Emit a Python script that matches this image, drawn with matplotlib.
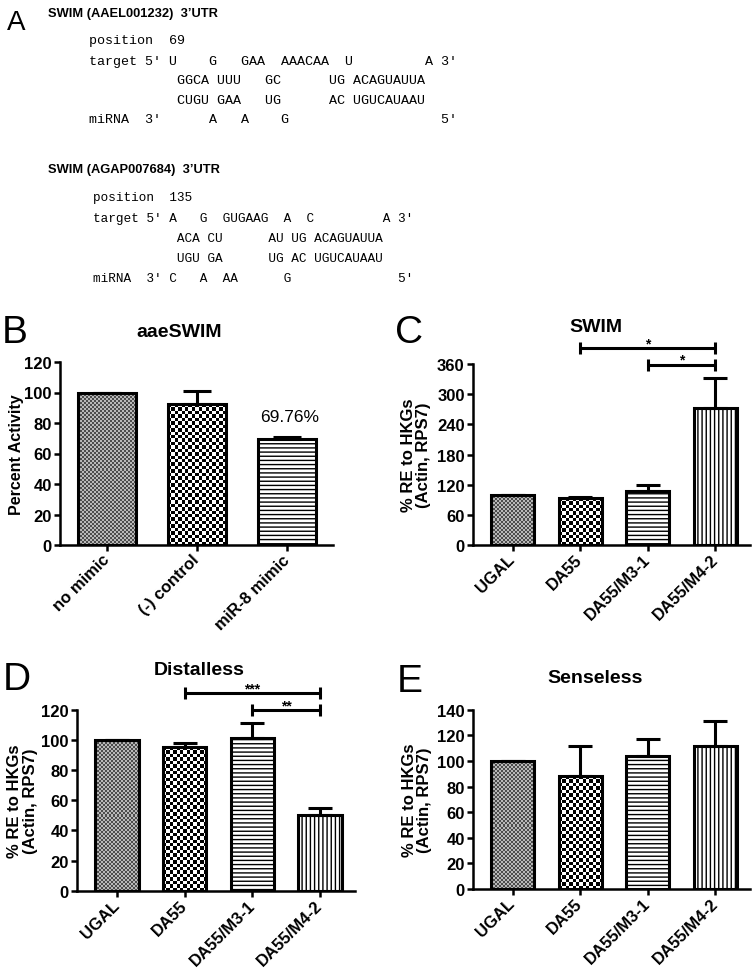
import numpy as np
import matplotlib
matplotlib.use('Agg')
import matplotlib.pyplot as plt
from matplotlib import font_manager

# ---- data ----
swim_titles = ["SWIM (AAEL001232)  3\u2019UTR", "SWIM (AGAP007684)  3\u2019UTR"]
hyb_aael = ["position  69",
            "target 5' U    G   GAA  AAACAA  U" + " " * 9 + "A 3'",
            " " * 11 + "GGCA UUU   GC      UG ACAGUAUUA",
            " " * 11 + "CUGU GAA   UG      AC UGUCAUAAU",
            "miRNA  3'" + " " * 6 + "A" + " " * 3 + "A" + " " * 4 + "G" + " " * 19 + "5'"]
hyb_agap = ["position  135",
            "target 5' A   G  GUGAAG  A  C" + " " * 9 + "A 3'",
            " " * 11 + "ACA CU      AU UG ACAGUAUUA",
            " " * 11 + "UGU GA      UG AC UGUCAUAAU",
            "miRNA  3' C   A  AA" + " " * 6 + "G" + " " * 14 + "5'"]

cats_b = ['no mimic', '(-) control', 'miR-8 mimic']
activity = [100, 92.3, 69.76]
activity_err = [0, 8.5, 1.3]

cats = ['UGAL', 'DA55', 'DA55/M3-1', 'DA55/M4-2']
swim = [100, 92.5, 107.5, 273]
swim_err = [0, 3.5, 12, 60]
dll = [100, 95, 101.5, 50.5]
dll_err = [0, 3, 10, 4.5]
sens = [100, 88, 104, 111.5]
sens_err = [0, 23.5, 13, 20]

swim_sig = [(1, 3, 391, '*'), (2, 3, 359, '*')]
dll_sig = [(1, 3, 131, '***'), (2, 3, 119.5, '**')]

plt.rcParams['font.family'] = ['Liberation Sans', 'DejaVu Sans']
plt.rcParams['font.weight'] = 'bold'
plt.rcParams['hatch.linewidth'] = 1.0

W, H = 754, 978
fig = plt.figure(figsize=(W / 100, H / 100), dpi=100)
fig.patch.set_facecolor('white')


def make_axes(left, top, right, bottom):
    return fig.add_axes([left / W, 1 - bottom / H, (right - left) / W, (bottom - top) / H])


def checker(ax, bar, cell, lo, hi):
    x0, y0 = bar.get_x(), bar.get_y()
    w, h = bar.get_width(), bar.get_height()
    p0 = ax.transData.transform((x0, y0))
    p1 = ax.transData.transform((x0 + w, y0 + h))
    nx = max(1, int(round((p1[0] - p0[0]) / cell)))
    ny = max(1, int(round((p1[1] - p0[1]) / cell)))
    arr = (np.indices((ny, nx)).sum(axis=0) % 2) * (hi - lo) + lo
    im = ax.imshow(arr, extent=(x0, x0 + w, y0, y0 + h), cmap='gray', vmin=0, vmax=1,
                   interpolation='nearest', aspect='auto', zorder=2.5)
    im.set_clip_path(bar)


def bar_panel(ax, labels, vals, errs, xlim, ylim, yticks, capsize):
    x = np.arange(len(vals))
    ax.set_xlim(*xlim)
    ax.set_ylim(*ylim)
    bars = ax.bar(x, vals, 0.64, facecolor='white', edgecolor='black', linewidth=0, zorder=2)
    patterns = ['fine', 'check', 'hline', 'vline']
    for b, pat in zip(bars, patterns):
        if pat == 'fine':
            checker(ax, b, 2, 0.3, 0.72)
        elif pat == 'check':
            checker(ax, b, 3.4, 0.0, 1.0)
        elif pat == 'hline':
            b.set_hatch('----')
        else:
            b.set_hatch('||||')
    ax.bar(x, vals, 0.64, facecolor='none', edgecolor='black', linewidth=2.2, zorder=4)
    ax.errorbar(x, vals, yerr=[np.zeros(len(errs)), errs], fmt='none', ecolor='black',
                elinewidth=2.2, capsize=capsize, capthick=2.2, zorder=3)
    ax.set_xlim(*xlim)
    ax.set_ylim(*ylim)
    ax.set_yticks(yticks)
    ax.set_xticks(x)
    ax.set_xticklabels(labels, rotation=45, ha='right', va='center', rotation_mode='anchor')
    ax.spines[['top', 'right']].set_visible(False)
    for s in ['left', 'bottom']:
        ax.spines[s].set_linewidth(1.8)
    ax.tick_params(direction='out', length=4.5, width=1.8, labelsize=12, pad=1.5)
    ax.tick_params(axis='x', pad=4)


def brackets(ax, sig):
    for a, b, y, s in sig:
        ax.plot([a, b], [y, y], color='black', lw=2.2, marker='|', ms=9, mew=2.2,
                clip_on=False, solid_capstyle='butt')
        ax.annotate(s, ((a + b) / 2, y), xytext=(0, 0.5), textcoords='offset points',
                    ha='center', va='baseline', fontsize=10, annotation_clip=False)


def ftext(x, y, s, **kw):
    fig.text(x / W, 1 - y / H, s, **kw)


# ---- panel A ----
ftext(7, 30, 'A', fontsize=20, weight='normal', va='baseline')
installed = {f.name for f in font_manager.fontManager.ttflist}
if 'Liberation Sans Narrow' in installed:
    head_font, head_size = 'Liberation Sans Narrow', 11
else:
    head_font, head_size = 'Liberation Sans', 9.3
ftext(48, 17, swim_titles[0], family=head_font, fontsize=head_size, weight='bold', va='baseline')
ftext(48, 173, swim_titles[1], family=head_font, fontsize=head_size, weight='bold', va='baseline')
for line, yb in zip(hyb_aael, [44, 65, 84, 104, 123]):
    ftext(89, yb, line, family=['Liberation Mono', 'DejaVu Sans Mono'], fontsize=9.6,
          weight='normal', va='baseline')
for line, yb in zip(hyb_agap, [201, 222, 242, 262, 282]):
    ftext(93, yb, line, family=['Liberation Mono', 'DejaVu Sans Mono'], fontsize=9.2,
          weight='normal', va='baseline')

# ---- panel B ----
axb = make_axes(60, 363, 333, 546)
bar_panel(axb, cats_b, activity, activity_err, (-0.522, 2.511), (0, 120),
          range(0, 121, 20), 10)
axb.annotate('69.76%', (2.03, 84), ha='center', va='center', fontsize=12.5, weight='normal')
ftext(2, 343, 'B', fontsize=28, weight='normal', va='baseline')
ftext(179.5, 337, 'aaeSWIM', fontsize=14, ha='center', va='baseline')
ftext(16.5, 454.5, 'Percent Activity', fontsize=11.5, rotation=90, ha='center', va='center')

# ---- panel C ----
axc = make_axes(473, 365, 750, 546)
bar_panel(axc, cats, swim, swim_err, (-0.584, 3.51), (0, 360), range(0, 361, 60), 8.5)
brackets(axc, swim_sig)
ftext(395, 343, 'C', fontsize=28, weight='normal', va='baseline')
ftext(596, 332, 'SWIM', fontsize=14, ha='center', va='baseline')
ftext(416, 455.5, '% RE to HKGs\n(Actin, RPS7)', fontsize=12, rotation=90,
      ha='center', va='center', linespacing=1.0, multialignment='center')

# ---- panel D ----
axd = make_axes(77, 710.7, 355, 891.7)
bar_panel(axd, cats, dll, dll_err, (-0.591, 3.517), (0, 120), range(0, 121, 20), 8.5)
brackets(axd, dll_sig)
ftext(3, 690, 'D', fontsize=28, weight='normal', va='baseline')
ftext(199, 675, 'Distalless', fontsize=14, ha='center', va='baseline')
ftext(22.5, 801, '% RE to HKGs\n(Actin, RPS7)', fontsize=12, rotation=90,
      ha='center', va='center', linespacing=1.0, multialignment='center')

# ---- panel E ----
axe = make_axes(473, 710.7, 750, 890)
bar_panel(axe, cats, sens, sens_err, (-0.584, 3.51), (0, 140), range(0, 141, 20), 8.5)
ftext(397, 692, 'E', fontsize=28, weight='normal', va='baseline')
ftext(595.5, 683, 'Senseless', fontsize=14, ha='center', va='baseline')
ftext(416.5, 800, '% RE to HKGs\n(Actin, RPS7)', fontsize=12, rotation=90,
      ha='center', va='center', linespacing=1.0, multialignment='center')

fig.savefig('out.png', dpi=100, facecolor='white')
